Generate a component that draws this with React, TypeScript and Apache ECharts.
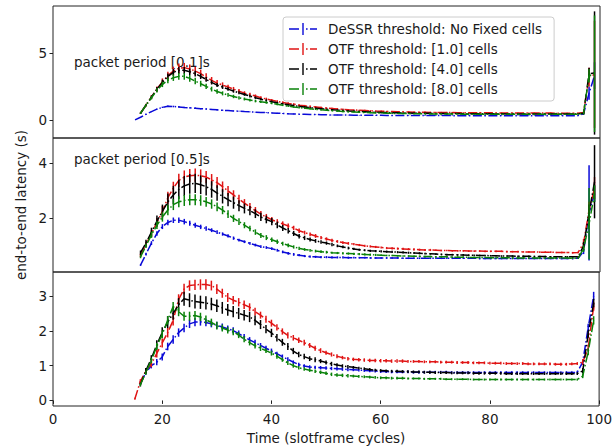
import React, { useEffect, useRef } from "react";
import * as echarts from "echarts";

// Time axis (slotframe cycles), one sample per cycle
const cycles = [
  15, 16, 17, 18, 19, 20, 21, 22, 23, 24,
  25, 26, 27, 28, 29, 30, 31, 32, 33, 34,
  35, 36, 37, 38, 39, 40, 41, 42, 43, 44,
  45, 46, 47, 48, 49, 50, 51, 52, 53, 54,
  55, 56, 57, 58, 59, 60, 61, 62, 63, 64,
  65, 66, 67, 68, 69, 70, 71, 72, 73, 74,
  75, 76, 77, 78, 79, 80, 81, 82, 83, 84,
  85, 86, 87, 88, 89, 90, 91, 92, 93, 94,
  95, 96, 97, 98, 99,
];

const seriesNames = [
  "DeSSR threshold: No Fixed cells",
  "OTF threshold: [1.0] cells",
  "OTF threshold: [4.0] cells",
  "OTF threshold: [8.0] cells",
];

// ---- packet period 0.1 s : mean latency and error half-width ----
const p01Dessr = [
  0.0, 0.2, 0.42, 0.62, 0.8, 0.94, 1.02, 1.0, 0.97, 0.93,
  0.9, 0.87, 0.84, 0.81, 0.78, 0.75, 0.72, 0.7, 0.67, 0.65,
  0.62, 0.6, 0.58, 0.56, 0.54, 0.52, 0.5, 0.48, 0.46, 0.45,
  0.43, 0.42, 0.41, 0.4, 0.39, 0.38, 0.37, 0.37, 0.36, 0.36,
  0.35, 0.35, 0.35, 0.34, 0.34, 0.34, 0.33, 0.33, 0.33, 0.33,
  0.33, 0.32, 0.32, 0.32, 0.32, 0.32, 0.32, 0.32, 0.32, 0.31,
  0.31, 0.31, 0.31, 0.31, 0.31, 0.31, 0.31, 0.31, 0.31, 0.31,
  0.31, 0.31, 0.31, 0.31, 0.31, 0.31, 0.31, 0.31, 0.31, 0.31,
  0.31, 0.32, 0.45, 2.0, 3.3,
];
const p01DessrErr = [
  0, 0.02, 0.03, 0.04, 0.05, 0.05, 0.06, 0.06, 0.06, 0.05,
  0.05, 0.05, 0.05, 0.04, 0.04, 0.04, 0.04, 0.04, 0.03, 0.03,
  0.03, 0.03, 0.03, 0.03, 0.03, 0.03, 0.03, 0.03, 0.03, 0.03,
  0.02, 0.02, 0.02, 0.02, 0.02, 0.02, 0.02, 0.02, 0.02, 0.02,
  0.02, 0.02, 0.02, 0.02, 0.02, 0.02, 0.02, 0.02, 0.02, 0.02,
  0.02, 0.02, 0.02, 0.02, 0.02, 0.02, 0.02, 0.02, 0.02, 0.02,
  0.02, 0.02, 0.02, 0.02, 0.02, 0.02, 0.02, 0.02, 0.02, 0.02,
  0.02, 0.02, 0.02, 0.02, 0.02, 0.02, 0.02, 0.02, 0.02, 0.02,
  0.02, 0.02, 0.05, 0.5, 1.0,
];
const p01Otf1 = [
  null, 0.5, 1.1, 1.7, 2.3, 2.85, 3.3, 3.65, 3.85, 3.9,
  3.8, 3.65, 3.45, 3.2, 2.95, 2.75, 2.6, 2.45, 2.3, 2.15,
  2.0, 1.9, 1.78, 1.66, 1.56, 1.46, 1.38, 1.3, 1.23, 1.17,
  1.1, 1.05, 1.0, 0.96, 0.92, 0.88, 0.85, 0.82, 0.79, 0.76,
  0.74, 0.72, 0.7, 0.68, 0.66, 0.65, 0.63, 0.62, 0.61, 0.6,
  0.59, 0.58, 0.57, 0.57, 0.56, 0.56, 0.55, 0.55, 0.55, 0.54,
  0.54, 0.54, 0.53, 0.53, 0.53, 0.53, 0.52, 0.52, 0.52, 0.52,
  0.52, 0.51, 0.51, 0.51, 0.51, 0.51, 0.51, 0.5, 0.5, 0.5,
  0.5, 0.5, 0.55, 3.2, 3.4,
];
const p01Otf1Err = [
  null, 0.05, 0.1, 0.15, 0.2, 0.25, 0.3, 0.33, 0.35, 0.35,
  0.34, 0.32, 0.3, 0.28, 0.25, 0.22, 0.2, 0.18, 0.16, 0.15,
  0.14, 0.13, 0.12, 0.11, 0.1, 0.1, 0.09, 0.09, 0.08, 0.08,
  0.07, 0.07, 0.07, 0.07, 0.06, 0.06, 0.06, 0.06, 0.06, 0.05,
  0.05, 0.05, 0.05, 0.05, 0.05, 0.05, 0.05, 0.05, 0.05, 0.05,
  0.05, 0.05, 0.05, 0.05, 0.05, 0.05, 0.05, 0.05, 0.05, 0.05,
  0.04, 0.04, 0.04, 0.04, 0.04, 0.04, 0.04, 0.04, 0.04, 0.04,
  0.04, 0.04, 0.04, 0.04, 0.04, 0.04, 0.04, 0.04, 0.04, 0.04,
  0.04, 0.04, 0.1, 0.7, 4.0,
];
const p01Otf4 = [
  null, 0.5, 1.1, 1.7, 2.3, 2.8, 3.25, 3.55, 3.7, 3.7,
  3.6, 3.45, 3.25, 3.02, 2.8, 2.6, 2.45, 2.3, 2.15, 2.02,
  1.9, 1.78, 1.66, 1.55, 1.45, 1.36, 1.28, 1.2, 1.13, 1.07,
  1.01, 0.96, 0.91, 0.87, 0.83, 0.79, 0.76, 0.73, 0.7, 0.67,
  0.65, 0.63, 0.61, 0.59, 0.57, 0.56, 0.55, 0.54, 0.53, 0.52,
  0.51, 0.5, 0.5, 0.49, 0.49, 0.48, 0.48, 0.47, 0.47, 0.47,
  0.46, 0.46, 0.46, 0.46, 0.46, 0.46, 0.46, 0.46, 0.45, 0.45,
  0.45, 0.45, 0.45, 0.45, 0.45, 0.45, 0.45, 0.45, 0.45, 0.45,
  0.45, 0.45, 0.5, 3.45, 3.5,
];
const p01Otf4Err = [
  null, 0.05, 0.08, 0.12, 0.16, 0.2, 0.22, 0.25, 0.25, 0.25,
  0.24, 0.22, 0.2, 0.18, 0.16, 0.15, 0.14, 0.13, 0.12, 0.11,
  0.1, 0.1, 0.09, 0.09, 0.08, 0.08, 0.07, 0.07, 0.07, 0.06,
  0.06, 0.06, 0.06, 0.06, 0.06, 0.05, 0.05, 0.05, 0.05, 0.05,
  0.05, 0.05, 0.05, 0.05, 0.05, 0.04, 0.04, 0.04, 0.04, 0.04,
  0.04, 0.04, 0.04, 0.04, 0.04, 0.04, 0.04, 0.04, 0.04, 0.04,
  0.04, 0.04, 0.04, 0.04, 0.04, 0.04, 0.04, 0.04, 0.04, 0.04,
  0.04, 0.04, 0.04, 0.04, 0.04, 0.04, 0.04, 0.04, 0.04, 0.04,
  0.04, 0.04, 0.1, 0.45, 4.6,
];
const p01Otf8 = [
  null, 0.5, 1.1, 1.65, 2.2, 2.65, 2.95, 3.15, 3.25, 3.25,
  3.1, 2.9, 2.7, 2.5, 2.3, 2.12, 1.98, 1.86, 1.75, 1.65,
  1.56, 1.48, 1.41, 1.35, 1.3, 1.24, 1.17, 1.1, 1.03, 0.97,
  0.92, 0.87, 0.83, 0.79, 0.75, 0.72, 0.69, 0.66, 0.63, 0.61,
  0.59, 0.57, 0.55, 0.54, 0.52, 0.51, 0.5, 0.49, 0.48, 0.47,
  0.47, 0.46, 0.46, 0.45, 0.45, 0.45, 0.44, 0.44, 0.44, 0.44,
  0.43, 0.43, 0.43, 0.43, 0.43, 0.43, 0.43, 0.43, 0.43, 0.43,
  0.43, 0.43, 0.43, 0.43, 0.43, 0.43, 0.43, 0.43, 0.43, 0.43,
  0.43, 0.43, 0.5, 3.3, 3.45,
];
const p01Otf8Err = [
  null, 0.05, 0.08, 0.12, 0.16, 0.2, 0.22, 0.24, 0.25, 0.25,
  0.25, 0.24, 0.22, 0.2, 0.18, 0.16, 0.15, 0.14, 0.13, 0.12,
  0.11, 0.1, 0.1, 0.09, 0.09, 0.08, 0.08, 0.07, 0.07, 0.06,
  0.06, 0.06, 0.05, 0.05, 0.05, 0.05, 0.05, 0.05, 0.05, 0.05,
  0.04, 0.04, 0.04, 0.04, 0.04, 0.04, 0.04, 0.04, 0.04, 0.04,
  0.04, 0.04, 0.04, 0.04, 0.04, 0.04, 0.04, 0.04, 0.04, 0.04,
  0.04, 0.04, 0.04, 0.04, 0.04, 0.04, 0.04, 0.04, 0.04, 0.04,
  0.04, 0.04, 0.04, 0.04, 0.04, 0.04, 0.04, 0.04, 0.04, 0.04,
  0.04, 0.04, 0.1, 0.5, 4.35,
];

// ---- packet period 0.5 s ----
const p05Dessr = [
  null, 0.3, 0.7, 1.1, 1.45, 1.7, 1.85, 1.93, 1.93, 1.88,
  1.82, 1.75, 1.69, 1.63, 1.57, 1.5, 1.43, 1.36, 1.28, 1.21,
  1.15, 1.09, 1.03, 0.97, 0.94, 0.9, 0.84, 0.78, 0.73, 0.69,
  0.66, 0.63, 0.61, 0.6, 0.59, 0.59, 0.58, 0.58, 0.58, 0.57,
  0.57, 0.57, 0.57, 0.56, 0.56, 0.56, 0.56, 0.56, 0.56, 0.55,
  0.55, 0.55, 0.55, 0.55, 0.55, 0.55, 0.55, 0.55, 0.55, 0.55,
  0.55, 0.55, 0.55, 0.54, 0.54, 0.54, 0.54, 0.54, 0.54, 0.54,
  0.54, 0.54, 0.54, 0.54, 0.54, 0.54, 0.54, 0.54, 0.54, 0.54,
  0.54, 0.55, 0.8, 2.2, 2.9,
];
const p05DessrErr = [
  null, 0.03, 0.05, 0.07, 0.08, 0.09, 0.1, 0.1, 0.1, 0.1,
  0.09, 0.09, 0.08, 0.08, 0.07, 0.07, 0.06, 0.06, 0.06, 0.05,
  0.05, 0.05, 0.05, 0.05, 0.05, 0.05, 0.05, 0.05, 0.05, 0.05,
  0.04, 0.04, 0.04, 0.04, 0.04, 0.04, 0.04, 0.04, 0.04, 0.04,
  0.03, 0.03, 0.03, 0.03, 0.03, 0.03, 0.03, 0.03, 0.03, 0.03,
  0.03, 0.03, 0.03, 0.03, 0.03, 0.03, 0.03, 0.03, 0.03, 0.03,
  0.03, 0.03, 0.03, 0.03, 0.03, 0.03, 0.03, 0.03, 0.03, 0.03,
  0.03, 0.03, 0.03, 0.03, 0.03, 0.03, 0.03, 0.03, 0.03, 0.03,
  0.03, 0.03, 0.1, 1.73, 0.3,
];
const p05Otf1 = [
  null, 0.65, 1.05, 1.45, 1.85, 2.25, 2.75, 3.1, 3.38, 3.5,
  3.55, 3.57, 3.55, 3.5, 3.4, 3.3, 3.15, 3.0, 2.85, 2.7,
  2.55, 2.42, 2.28, 2.15, 2.05, 1.95, 1.87, 1.8, 1.72, 1.65,
  1.55, 1.48, 1.42, 1.36, 1.3, 1.25, 1.2, 1.16, 1.12, 1.09,
  1.06, 1.03, 1.0, 0.98, 0.96, 0.94, 0.92, 0.91, 0.9, 0.89,
  0.88, 0.87, 0.86, 0.85, 0.85, 0.84, 0.83, 0.83, 0.82, 0.82,
  0.82, 0.81, 0.81, 0.81, 0.8, 0.8, 0.8, 0.8, 0.79, 0.79,
  0.79, 0.78, 0.78, 0.78, 0.77, 0.77, 0.77, 0.76, 0.76, 0.76,
  0.75, 0.76, 1.1, 2.3, 3.1,
];
const p05Otf1Err = [
  null, 0.06, 0.1, 0.13, 0.16, 0.2, 0.22, 0.23, 0.24, 0.24,
  0.24, 0.24, 0.23, 0.22, 0.21, 0.2, 0.19, 0.18, 0.17, 0.16,
  0.15, 0.14, 0.13, 0.12, 0.11, 0.1, 0.1, 0.09, 0.09, 0.08,
  0.08, 0.07, 0.07, 0.07, 0.06, 0.06, 0.06, 0.05, 0.05, 0.05,
  0.04, 0.04, 0.04, 0.04, 0.04, 0.04, 0.04, 0.04, 0.04, 0.04,
  0.04, 0.04, 0.04, 0.04, 0.04, 0.03, 0.03, 0.03, 0.03, 0.03,
  0.03, 0.03, 0.03, 0.03, 0.03, 0.03, 0.03, 0.03, 0.03, 0.03,
  0.03, 0.03, 0.03, 0.03, 0.03, 0.03, 0.03, 0.03, 0.03, 0.03,
  0.03, 0.03, 0.15, 0.3, 0.4,
];
const p05Otf4 = [
  null, 0.75, 1.1, 1.5, 1.9, 2.25, 2.6, 2.85, 3.05, 3.18,
  3.25, 3.27, 3.22, 3.15, 3.05, 2.92, 2.8, 2.68, 2.57, 2.46,
  2.36, 2.28, 2.17, 2.05, 1.96, 1.88, 1.76, 1.65, 1.55, 1.45,
  1.35, 1.29, 1.23, 1.18, 1.14, 1.1, 1.05, 1.0, 0.96, 0.92,
  0.89, 0.86, 0.84, 0.82, 0.81, 0.8, 0.79, 0.78, 0.77, 0.76,
  0.75, 0.74, 0.73, 0.72, 0.71, 0.7, 0.69, 0.68, 0.68, 0.67,
  0.67, 0.66, 0.66, 0.65, 0.65, 0.64, 0.64, 0.63, 0.63, 0.63,
  0.62, 0.62, 0.62, 0.61, 0.61, 0.61, 0.6, 0.6, 0.6, 0.6,
  0.6, 0.6, 1.0, 2.2, 3.33,
];
const p05Otf4Err = [
  null, 0.08, 0.12, 0.16, 0.2, 0.25, 0.3, 0.33, 0.35, 0.36,
  0.36, 0.35, 0.34, 0.32, 0.3, 0.28, 0.26, 0.24, 0.22, 0.2,
  0.18, 0.17, 0.16, 0.15, 0.14, 0.13, 0.12, 0.11, 0.1, 0.09,
  0.08, 0.08, 0.07, 0.07, 0.06, 0.06, 0.06, 0.05, 0.05, 0.05,
  0.04, 0.04, 0.04, 0.04, 0.04, 0.04, 0.04, 0.04, 0.04, 0.04,
  0.04, 0.04, 0.04, 0.03, 0.03, 0.03, 0.03, 0.03, 0.03, 0.03,
  0.03, 0.03, 0.03, 0.03, 0.03, 0.03, 0.03, 0.03, 0.03, 0.03,
  0.03, 0.03, 0.03, 0.03, 0.03, 0.03, 0.03, 0.03, 0.03, 0.03,
  0.03, 0.03, 0.15, 0.3, 1.33,
];
const p05Otf8 = [
  null, 0.6, 1.0, 1.4, 1.75, 2.05, 2.3, 2.5, 2.6, 2.65,
  2.68, 2.68, 2.65, 2.6, 2.52, 2.42, 2.3, 2.15, 2.0, 1.88,
  1.75, 1.63, 1.5, 1.38, 1.3, 1.22, 1.15, 1.08, 1.02, 0.96,
  0.91, 0.87, 0.84, 0.81, 0.79, 0.77, 0.75, 0.74, 0.73, 0.72,
  0.71, 0.7, 0.69, 0.68, 0.67, 0.66, 0.65, 0.65, 0.64, 0.63,
  0.63, 0.62, 0.62, 0.61, 0.61, 0.6, 0.6, 0.6, 0.59, 0.59,
  0.59, 0.58, 0.58, 0.58, 0.58, 0.57, 0.57, 0.57, 0.57, 0.56,
  0.56, 0.56, 0.56, 0.56, 0.56, 0.56, 0.56, 0.56, 0.56, 0.56,
  0.55, 0.55, 0.9, 1.8, 2.9,
];
const p05Otf8Err = [
  null, 0.05, 0.08, 0.11, 0.14, 0.17, 0.19, 0.2, 0.2, 0.2,
  0.2, 0.2, 0.19, 0.18, 0.17, 0.16, 0.15, 0.14, 0.13, 0.12,
  0.11, 0.1, 0.1, 0.09, 0.09, 0.08, 0.08, 0.07, 0.07, 0.06,
  0.06, 0.05, 0.05, 0.05, 0.05, 0.05, 0.04, 0.04, 0.04, 0.04,
  0.04, 0.04, 0.04, 0.04, 0.04, 0.03, 0.03, 0.03, 0.03, 0.03,
  0.03, 0.03, 0.03, 0.03, 0.03, 0.03, 0.03, 0.03, 0.03, 0.03,
  0.03, 0.03, 0.03, 0.03, 0.03, 0.03, 0.03, 0.03, 0.03, 0.03,
  0.03, 0.03, 0.03, 0.03, 0.03, 0.03, 0.03, 0.03, 0.03, 0.03,
  0.03, 0.03, 0.12, 1.3, 0.3,
];

// ---- packet period 1.0 s ----
const p10Dessr = [
  null, 0.5, 0.8, 1.0, 1.1, 1.25, 1.55, 1.75, 1.95, 2.08,
  2.2, 2.25, 2.26, 2.24, 2.2, 2.16, 2.11, 2.06, 2.01, 1.92,
  1.83, 1.74, 1.66, 1.58, 1.5, 1.42, 1.34, 1.26, 1.18, 1.1,
  1.03, 0.99, 0.96, 0.95, 0.94, 0.93, 0.92, 0.91, 0.9, 0.89,
  0.88, 0.87, 0.86, 0.85, 0.84, 0.83, 0.83, 0.82, 0.82, 0.82,
  0.82, 0.81, 0.81, 0.81, 0.81, 0.81, 0.81, 0.81, 0.8, 0.8,
  0.8, 0.8, 0.8, 0.8, 0.8, 0.8, 0.8, 0.8, 0.8, 0.8,
  0.8, 0.8, 0.8, 0.8, 0.8, 0.8, 0.8, 0.8, 0.8, 0.8,
  0.8, 0.81, 1.1, 2.1, 3.0,
];
const p10DessrErr = [
  null, 0.04, 0.06, 0.08, 0.09, 0.1, 0.11, 0.12, 0.12, 0.12,
  0.12, 0.12, 0.11, 0.11, 0.1, 0.1, 0.1, 0.09, 0.09, 0.09,
  0.08, 0.08, 0.08, 0.07, 0.07, 0.07, 0.06, 0.06, 0.06, 0.05,
  0.05, 0.05, 0.05, 0.05, 0.05, 0.05, 0.05, 0.05, 0.05, 0.05,
  0.04, 0.04, 0.04, 0.04, 0.04, 0.04, 0.04, 0.04, 0.04, 0.04,
  0.04, 0.04, 0.04, 0.04, 0.04, 0.04, 0.04, 0.04, 0.04, 0.04,
  0.04, 0.04, 0.04, 0.04, 0.04, 0.04, 0.04, 0.04, 0.04, 0.04,
  0.04, 0.04, 0.04, 0.04, 0.04, 0.04, 0.04, 0.04, 0.04, 0.04,
  0.04, 0.04, 0.08, 0.1, 0.12,
];
const p10Otf1 = [
  0.05, 0.55, 0.85, 1.05, 1.35, 1.65, 1.95, 2.3, 2.9, 3.2,
  3.3, 3.32, 3.33, 3.33, 3.3, 3.2, 3.08, 2.96, 2.88, 2.82,
  2.75, 2.68, 2.55, 2.45, 2.33, 2.22, 2.1, 1.98, 1.87, 1.8,
  1.73, 1.66, 1.58, 1.5, 1.43, 1.37, 1.32, 1.27, 1.23, 1.2,
  1.18, 1.17, 1.16, 1.15, 1.15, 1.14, 1.14, 1.13, 1.13, 1.13,
  1.12, 1.12, 1.12, 1.11, 1.11, 1.11, 1.1, 1.1, 1.1, 1.09,
  1.09, 1.09, 1.08, 1.08, 1.08, 1.07, 1.07, 1.07, 1.06, 1.06,
  1.06, 1.06, 1.05, 1.05, 1.05, 1.05, 1.05, 1.04, 1.04, 1.04,
  1.05, 1.06, 1.1, 1.5, 2.7,
];
const p10Otf1Err = [
  0.03, 0.06, 0.08, 0.1, 0.12, 0.13, 0.14, 0.15, 0.15, 0.15,
  0.15, 0.15, 0.15, 0.15, 0.14, 0.14, 0.13, 0.13, 0.12, 0.12,
  0.12, 0.11, 0.11, 0.1, 0.1, 0.1, 0.09, 0.09, 0.09, 0.08,
  0.08, 0.08, 0.07, 0.07, 0.07, 0.06, 0.06, 0.06, 0.05, 0.05,
  0.05, 0.05, 0.05, 0.05, 0.05, 0.05, 0.05, 0.05, 0.05, 0.05,
  0.04, 0.04, 0.04, 0.04, 0.04, 0.04, 0.04, 0.04, 0.04, 0.04,
  0.04, 0.04, 0.04, 0.04, 0.04, 0.04, 0.04, 0.04, 0.04, 0.04,
  0.04, 0.04, 0.04, 0.04, 0.04, 0.04, 0.04, 0.04, 0.04, 0.04,
  0.04, 0.04, 0.08, 0.1, 0.12,
];
const p10Otf4 = [
  null, 0.45, 0.85, 1.2, 1.6, 1.95, 2.25, 2.5, 2.75, 2.92,
  2.88, 2.84, 2.82, 2.8, 2.77, 2.72, 2.66, 2.6, 2.55, 2.5,
  2.45, 2.4, 2.3, 2.18, 2.05, 1.94, 1.8, 1.67, 1.55, 1.42,
  1.32, 1.26, 1.2, 1.17, 1.13, 1.09, 1.05, 1.02, 0.99, 0.97,
  0.95, 0.93, 0.91, 0.89, 0.87, 0.86, 0.85, 0.84, 0.84, 0.83,
  0.83, 0.82, 0.82, 0.81, 0.81, 0.8, 0.8, 0.8, 0.79, 0.79,
  0.79, 0.79, 0.78, 0.78, 0.78, 0.78, 0.78, 0.78, 0.77, 0.77,
  0.77, 0.77, 0.77, 0.77, 0.77, 0.77, 0.77, 0.77, 0.77, 0.77,
  0.77, 0.77, 0.85, 1.9, 2.8,
];
const p10Otf4Err = [
  null, 0.05, 0.08, 0.1, 0.13, 0.15, 0.17, 0.18, 0.19, 0.2,
  0.2, 0.2, 0.19, 0.19, 0.18, 0.18, 0.17, 0.17, 0.16, 0.16,
  0.15, 0.15, 0.14, 0.13, 0.12, 0.12, 0.11, 0.1, 0.1, 0.09,
  0.08, 0.08, 0.07, 0.07, 0.06, 0.06, 0.06, 0.05, 0.05, 0.05,
  0.04, 0.04, 0.04, 0.04, 0.04, 0.04, 0.04, 0.04, 0.04, 0.04,
  0.04, 0.04, 0.04, 0.04, 0.04, 0.04, 0.04, 0.04, 0.04, 0.04,
  0.04, 0.04, 0.04, 0.04, 0.04, 0.04, 0.04, 0.04, 0.04, 0.04,
  0.04, 0.04, 0.04, 0.04, 0.04, 0.04, 0.04, 0.04, 0.04, 0.04,
  0.04, 0.04, 0.08, 0.1, 0.12,
];
const p10Otf8 = [
  null, 0.45, 0.8, 1.15, 1.55, 1.9, 2.3, 2.7, 2.55, 2.42,
  2.42, 2.44, 2.4, 2.32, 2.24, 2.15, 2.08, 2.02, 1.97, 1.88,
  1.76, 1.66, 1.57, 1.5, 1.43, 1.36, 1.27, 1.17, 1.08, 1.0,
  0.94, 0.9, 0.87, 0.84, 0.81, 0.78, 0.75, 0.73, 0.72, 0.71,
  0.7, 0.69, 0.68, 0.67, 0.66, 0.65, 0.65, 0.64, 0.64, 0.64,
  0.63, 0.63, 0.63, 0.62, 0.62, 0.62, 0.62, 0.61, 0.61, 0.61,
  0.61, 0.61, 0.6, 0.6, 0.6, 0.6, 0.6, 0.6, 0.6, 0.6,
  0.6, 0.6, 0.6, 0.6, 0.6, 0.6, 0.6, 0.6, 0.6, 0.6,
  0.6, 0.6, 0.7, 1.4, 2.3,
];
const p10Otf8Err = [
  null, 0.04, 0.06, 0.08, 0.1, 0.11, 0.12, 0.13, 0.13, 0.13,
  0.13, 0.13, 0.12, 0.12, 0.11, 0.11, 0.1, 0.1, 0.1, 0.09,
  0.09, 0.08, 0.08, 0.08, 0.07, 0.07, 0.07, 0.06, 0.06, 0.06,
  0.05, 0.05, 0.05, 0.05, 0.05, 0.05, 0.05, 0.05, 0.05, 0.05,
  0.04, 0.04, 0.04, 0.04, 0.04, 0.04, 0.04, 0.04, 0.04, 0.04,
  0.03, 0.03, 0.03, 0.03, 0.03, 0.03, 0.03, 0.03, 0.03, 0.03,
  0.03, 0.03, 0.03, 0.03, 0.03, 0.03, 0.03, 0.03, 0.03, 0.03,
  0.03, 0.03, 0.03, 0.03, 0.03, 0.03, 0.03, 0.03, 0.03, 0.03,
  0.03, 0.03, 0.06, 0.1, 0.12,
];

// Tick values
const timeTicks = [0, 20, 40, 60, 80, 100];
const p01Ticks = [0, 5];
const p05Ticks = [2, 4];
const p10Ticks = [0, 1, 2, 3];

const COLORS = ["#0a0ad8", "#e01414", "#000000", "#0a820a"];
const FONT = "DejaVu Sans";
const FONT_SIZE = 13.5;
const INK = "#1a1a1a";
const DASH_DOT = [9, 2.5, 1.5, 2.5];

// Legend handle: dash, error bar, dot, dash
const HANDLE =
  "path://M0,5.3h10v1.4h-10z M13.3,0h1.4v12h-1.4z M17,5.3h1.6v1.4h-1.6z M21,5.3h7v1.4h-7z";

const panels = [
  {
    means: [p01Dessr, p01Otf1, p01Otf4, p01Otf8],
    errs: [p01DessrErr, p01Otf1Err, p01Otf4Err, p01Otf8Err],
    yMin: -1.35,
    yMax: 8.5,
    ticks: p01Ticks,
    top: 6,
    height: 132,
  },
  {
    means: [p05Dessr, p05Otf1, p05Otf4, p05Otf8],
    errs: [p05DessrErr, p05Otf1Err, p05Otf4Err, p05Otf8Err],
    yMin: 0.05,
    yMax: 4.92,
    ticks: p05Ticks,
    top: 138,
    height: 134,
  },
  {
    means: [p10Dessr, p10Otf1, p10Otf4, p10Otf8],
    errs: [p10DessrErr, p10Otf1Err, p10Otf4Err, p10Otf8Err],
    yMin: -0.16,
    yMax: 3.69,
    ticks: p10Ticks,
    top: 272,
    height: 134,
  },
];

const errorBar = (color: string) => (_params: any, api: any) => {
  const x = api.value(0);
  const a = api.coord([x, api.value(1)]);
  const b = api.coord([x, api.value(2)]);
  return {
    type: "line",
    shape: { x1: a[0], y1: a[1], x2: b[0], y2: b[1] },
    style: { stroke: color, lineWidth: 1.5 },
  };
};

function buildOption() {
  const grid: any[] = [];
  const xAxis: any[] = [];
  const yAxis: any[] = [];
  const series: any[] = [];

  panels.forEach((p, gi) => {
    const isBottom = gi === panels.length - 1;
    grid.push({
      left: 53,
      right: 15,
      top: p.top,
      height: p.height,
      show: true,
      borderColor: "#222",
      borderWidth: 1,
      backgroundColor: "transparent",
    });
    xAxis.push({
      gridIndex: gi,
      type: "value",
      min: 0,
      max: 100,
      interval: 20,
      axisLine: { show: false },
      splitLine: { show: false },
      axisTick: {
        show: isBottom,
        length: 3.5,
        customValues: timeTicks,
        lineStyle: { color: "#222", width: 1 },
      },
      axisLabel: {
        show: isBottom,
        customValues: timeTicks,
        margin: 6,
        fontFamily: FONT,
        fontSize: FONT_SIZE,
        color: INK,
      },
      name: isBottom ? "Time (slotframe cycles)" : "",
      nameLocation: "middle",
      nameGap: 25,
      nameTextStyle: { fontFamily: FONT, fontSize: FONT_SIZE, color: INK },
    });
    yAxis.push({
      gridIndex: gi,
      type: "value",
      min: p.yMin,
      max: p.yMax,
      axisLine: { show: false },
      splitLine: { show: false },
      axisTick: {
        show: true,
        length: 3.5,
        customValues: p.ticks,
        lineStyle: { color: "#222", width: 1 },
      },
      axisLabel: {
        customValues: p.ticks,
        margin: 6,
        fontFamily: FONT,
        fontSize: FONT_SIZE,
        color: INK,
      },
      name: gi === 1 ? "end-to-end latency (s)" : "",
      nameLocation: "middle",
      nameRotate: 90,
      nameGap: 18,
      nameTextStyle: { fontFamily: FONT, fontSize: FONT_SIZE, color: INK },
    });

    p.means.forEach((vals, k) => {
      const color = COLORS[k];
      const pts: number[][] = [];
      const bars: number[][] = [];
      vals.forEach((v, i) => {
        if (v == null) return;
        const e = (p.errs[k][i] as number) ?? 0;
        pts.push([cycles[i], v]);
        bars.push([cycles[i], v - e, v + e]);
      });
      series.push({
        type: "line",
        name: seriesNames[k],
        xAxisIndex: gi,
        yAxisIndex: gi,
        data: pts,
        symbol: "none",
        showSymbol: false,
        silent: true,
        z: 10 + k,
        itemStyle: { color },
        lineStyle: { color, width: 1.5, type: DASH_DOT },
      });
      series.push({
        type: "custom",
        name: seriesNames[k],
        xAxisIndex: gi,
        yAxisIndex: gi,
        data: bars,
        encode: { x: 0, y: [1, 2] },
        renderItem: errorBar(color),
        clip: true,
        silent: true,
        z: 10 + k,
        itemStyle: { color },
      });
    });
  });

  return {
    animation: false,
    backgroundColor: "#ffffff",
    grid,
    xAxis,
    yAxis,
    series,
    legend: {
      orient: "vertical",
      left: 283,
      top: 17,
      padding: [5, 12, 5, 6],
      itemWidth: 28,
      itemHeight: 12,
      itemGap: 6,
      selectedMode: false,
      backgroundColor: "rgba(255,255,255,0.85)",
      borderColor: "#cccccc",
      borderWidth: 1,
      borderRadius: 3,
      itemStyle: { borderWidth: 0 },
      textStyle: {
        fontFamily: FONT,
        fontSize: FONT_SIZE,
        color: INK,
        lineHeight: 14,
        padding: [0, 0, 0, 6],
      },
      data: seriesNames.map((name) => ({ name, icon: HANDLE })),
    },
    graphic: [
      {
        type: "text",
        x: 74,
        y: 62,
        style: {
          text: "packet period [0.1]s",
          fontFamily: FONT,
          fontSize: FONT_SIZE,
          fill: INK,
          verticalAlign: "middle",
        },
      },
      {
        type: "text",
        x: 74,
        y: 159,
        style: {
          text: "packet period [0.5]s",
          fontFamily: FONT,
          fontSize: FONT_SIZE,
          fill: INK,
          verticalAlign: "middle",
        },
      },
    ],
  };
}

export default function App() {
  const ref = useRef<HTMLDivElement>(null);
  useEffect(() => {
    if (!ref.current) return;
    const chart = echarts.init(ref.current, undefined, { renderer: "svg" });
    chart.setOption(buildOption() as any);
    return () => chart.dispose();
  }, []);
  return (
    <div
      ref={ref}
      style={{
        position: "fixed",
        left: 0,
        top: 0,
        width: 615,
        height: 448,
        background: "#ffffff",
      }}
    />
  );
}
